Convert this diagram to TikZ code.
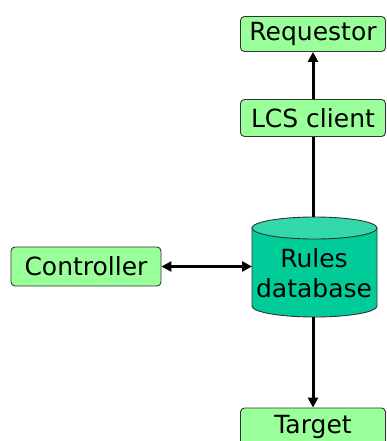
\documentclass[tikz,border=0pt]{standalone}
\usepackage{fontspec}
\setmainfont{DejaVu Sans}
\usetikzlibrary{arrows.meta}
\definecolor{boxgreen}{HTML}{99FF99}
\definecolor{dbbody}{HTML}{00CC99}
\definecolor{dbcap}{HTML}{33D9AA}
\definecolor{edge}{HTML}{333333}
\begin{document}
\begin{tikzpicture}[x=1pt,y=-1pt,
  font=\fontsize{25}{30}\selectfont,
  box/.style={draw=edge, line width=0.9pt, rounded corners=4pt, fill=boxgreen,
    minimum width=145pt, minimum height=36pt, inner sep=0pt},
  link/.style={line width=3pt, black},
  tip/.style={-{Triangle[length=10pt,width=10pt]}},
  twotips/.style={{Triangle[length=10pt,width=10pt]}-{Triangle[length=10pt,width=10pt]}}]
\useasboundingbox (0,0) rectangle (386,441);

% boxes
\node[box, minimum height=35pt] (req) at (313,34) {Requestor};
\node[box, minimum height=37pt] (lcs) at (313,118) {LCS client};
\node[box, minimum width=150pt, minimum height=39pt] (ctrl) at (86,266.5) {Controller};
\node[box, minimum height=38pt] (tgt) at (313,427) {Target};

% rules database cylinder
\fill[dbbody, draw=edge, line width=0.9pt]
  (252,228) -- (252,306) arc[start angle=180, end angle=0, x radius=62.5, y radius=11]
  -- (377,228) -- cycle;
\filldraw[fill=dbcap, draw=edge, line width=0.9pt]
  (314.5,228) ellipse[x radius=62.5, y radius=11];
\node[align=center, inner sep=0pt] (db) at (314,273) {Rules\\database};
\coordinate (dbtop) at (313,217);
\coordinate (dbleft) at (252,266.5);
\coordinate (dbbot) at (313,317);

% connectors
\draw[link, tip] (lcs.north) -- (req.south);
\draw[link] (lcs.south) -- (dbtop);
\draw[link, twotips] (ctrl.east) -- (dbleft);
\draw[link, tip] (dbbot) -- (tgt.north);
\end{tikzpicture}
\end{document}
